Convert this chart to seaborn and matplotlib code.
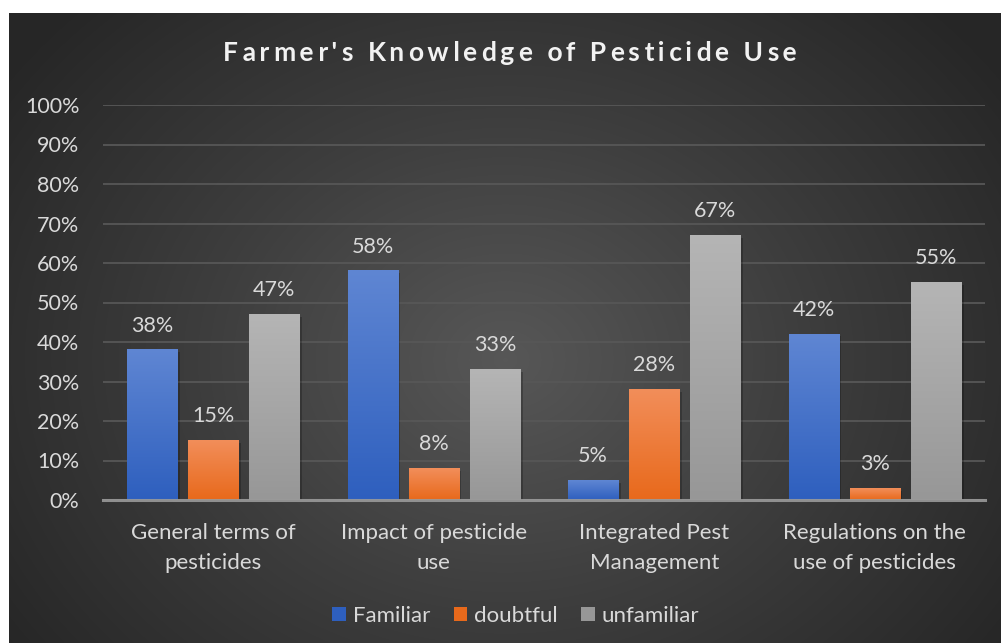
import numpy as np
import pandas as pd
import seaborn as sns
import matplotlib.pyplot as plt
from matplotlib.colors import LinearSegmentedColormap

categories = ["General terms of\npesticides", "Impact of pesticide\nuse",
              "Integrated Pest\nManagement", "Regulations on the\nuse of pesticides"]
series = ["Familiar", "doubtful", "unfamiliar"]
familiar = [38, 58, 5, 42]
doubtful = [15, 8, 28, 3]
unfamiliar = [47, 33, 67, 55]
yticks = [0, 10, 20, 30, 40, 50, 60, 70, 80, 90, 100]
title = "Farmer's Knowledge of Pesticide Use"

bottom_colors = ["#2E5FBE", "#E8691B", "#979797"]
top_colors = ["#5F86D3", "#F28E5A", "#B5B5B5"]

sns.set_theme(style="dark")
plt.rcParams['font.family'] = ['Lato', 'DejaVu Sans']

W, H = 1001, 643
fig = plt.figure(figsize=(W / 100, H / 100), dpi=100, facecolor='white')

# dark radial-gradient chart area
bx0, by0, bw, bh = 9, 0, W - 9, H - 13
bg = fig.add_axes([bx0 / W, by0 / H, bw / W, bh / H], zorder=0)
yy, xx = np.mgrid[0:bh, 0:bw]
r = np.sqrt(((xx - bw * 0.5) / (bw * 0.62)) ** 2 + ((yy - bh * 0.55) / (bh * 0.8)) ** 2)
r = np.clip(r, 0, 1)
bgcmap = LinearSegmentedColormap.from_list("bg", ["#575757", "#3d3d3d", "#262626"])
bg.imshow(r, cmap=bgcmap, aspect='auto', extent=[0, 1, 0, 1], vmin=0, vmax=1)
bg.set_axis_off()

# plot axes
ax = fig.add_axes([103 / W, (H - 500) / H, 882 / W, 395 / H], zorder=1)
ax.patch.set_alpha(0)

df = pd.DataFrame({
    "category": np.repeat(categories, 3),
    "series": series * len(categories),
    "value": [v for trip in zip(familiar, doubtful, unfamiliar) for v in trip],
})
sns.barplot(data=df, x="category", y="value", hue="series", hue_order=series,
            order=categories, palette=bottom_colors, width=0.832, gap=0.18,
            ax=ax, legend=True, edgecolor='none', saturation=1)

conts = list(ax.containers)
grad = np.linspace(0, 1, 256).reshape(-1, 1)
for ci, cont in enumerate(conts):
    cmap = LinearSegmentedColormap.from_list(f"g{ci}", [bottom_colors[ci], top_colors[ci]])
    for bar in cont:
        x0 = bar.get_x(); w = bar.get_width(); h = bar.get_height()
        ax.bar(x0 + w / 2 + 0.006, h, width=w + 0.012, bottom=-0.6, color='black',
               alpha=0.22, zorder=1.5, edgecolor='none')
        ax.imshow(grad, cmap=cmap, origin='lower', aspect='auto',
                  extent=[x0, x0 + w, 0, h], zorder=2)
        bar.set_zorder(1.8)
        ax.annotate(f"{h:.0f}%", (x0 + w / 2, h), xytext=(0, 17.5),
                    textcoords='offset points', ha='center', va='center',
                    color='#D9D9D9', fontsize=15.5, zorder=5)
ax.set_xlim(-0.5, 3.5)
ax.set_ylim(0, 100)

ax.set_yticks(yticks)
ax.set_yticklabels([f"{t}%" for t in yticks])
ax.yaxis.grid(True, color='#575757', linewidth=1.3, zorder=0)
ax.xaxis.grid(False)
ax.set_axisbelow(True)
for s in ["top", "right", "left"]:
    ax.spines[s].set_visible(False)
ax.spines["bottom"].set_color('#9a9a9a')
ax.spines["bottom"].set_linewidth(2.2)
ax.spines["bottom"].set_alpha(0.9)
ax.spines["bottom"].set_zorder(6)
ax.tick_params(axis='y', length=0, pad=17, labelsize=15.5, labelcolor='#D9D9D9')
ax.tick_params(axis='x', length=0, labelbottom=False)
ax.set_xlabel("")
ax.set_ylabel("")

# category labels (two lines each)
for i, cat in enumerate(categories):
    ax.annotate(cat, (i, 0), xycoords=('data', 'axes fraction'), xytext=(0, -16.5),
                textcoords='offset points', ha='center', va='top',
                color='#D9D9D9', fontsize=16, linespacing=1.6)

leg = ax.legend(conts, series, loc='center', bbox_to_anchor=(0.468, (616 - 500) / -395), ncol=3,
                frameon=False, fontsize=16, handlelength=0.62, handleheight=0.62,
                handletextpad=0.3, columnspacing=1.05, labelcolor='#D9D9D9')
for hnd in leg.legend_handles:
    hnd.set_edgecolor('none')

# letter-spaced title
spaced = title[0]
for k, ch in enumerate(title[1:]):
    spaced += ("\u200a" * (3 if k % 2 == 0 else 2)) + ch
fig.text(510 / W, 1 - 53 / H, spaced, ha='center', va='center',
         color='#F2F2F2', fontsize=19, fontweight='bold',
         family=['Lato', 'DejaVu Sans'])

fig.savefig("out.png", dpi=100, facecolor='white')
